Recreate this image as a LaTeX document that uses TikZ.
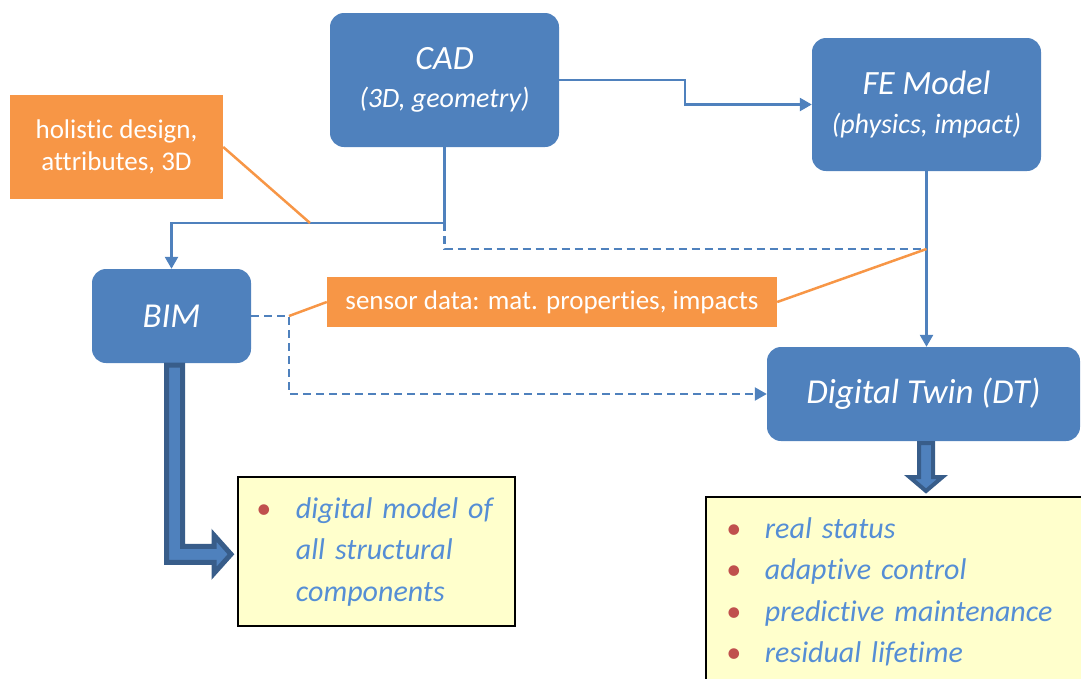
\documentclass[tikz,border=0pt]{standalone}
\usepackage{fontspec}
\setmainfont{Carlito}[Ligatures=CommonOff]
\usetikzlibrary{calc}
\usetikzlibrary{arrows.meta}

\definecolor{boxblue}{HTML}{4F81BD}
\definecolor{arrowdark}{HTML}{385D8A}
\definecolor{noteorange}{HTML}{F79646}
\definecolor{specyellow}{HTML}{FFFFCC}
\definecolor{bulletred}{HTML}{C0504D}
\definecolor{listblue}{HTML}{558ED5}

\newcommand{\specitem}{{\color{bulletred}\textbullet}}

\begin{document}
\begin{tikzpicture}[%
  x=1pt, y=-1pt,
  >={Triangle[length=12pt,width=13pt]},
  block/.style={fill=boxblue, rounded corners=14pt, text=white, align=center, inner sep=0pt},
  note/.style={fill=noteorange, text=white, align=center, inner sep=0pt,
    font=\fontsize{27}{32}\selectfont},
  spec/.style={draw=black, line width=2pt, fill=specyellow, anchor=north west, align=left,
    inner ysep=12pt, text=listblue, font=\itshape\fontsize{30}{41.5}\selectfont},
  flow/.style={boxblue, line width=2.5pt, ->},
  dashflow/.style={boxblue, line width=2.2pt, dash pattern=on 8pt off 5pt},
  calloutline/.style={noteorange, line width=2.5pt},
  fatarrow/.style={draw=arrowdark, fill=boxblue, line join=miter}
]

  \path[use as bounding box] (0,0) rectangle (1081,678);
  \clip (0,0) rectangle (1081,678);

  \node[block, minimum width=229pt, minimum height=134pt,
    font=\itshape\fontsize{28}{38}\selectfont] (cad) at (444.5,80)
    {{\fontsize{34}{38}\selectfont CAD}\\(3D, geometry)};
  \node[block, minimum width=229pt, minimum height=133pt,
    font=\itshape\fontsize{28}{39}\selectfont] (fe) at (926.5,104.5)
    {{\fontsize{34}{39}\selectfont FE Model}\\(physics, impact)};
  \node[block, minimum width=159pt, minimum height=94pt,
    font=\itshape\fontsize{35}{40}\selectfont] (bim) at (171.5,316) {BIM};
  \node[block, minimum width=313pt, minimum height=94pt,
    font=\itshape\fontsize{35}{40}\selectfont] (dt) at (923.5,394) {Digital Twin (DT)};

  \node[note, minimum width=213pt, minimum height=104pt] (holistic) at (116.5,147)
    {holistic design,\\attributes, 3D};
  \node[note, minimum width=450pt, minimum height=50pt] (sensor) at (552,302)
    {sensor data: mat. properties, impacts};

  \node[spec, inner xsep=18pt, text width=241pt] (bimspec) at (237,476) {%
    \noindent\begin{tabular}{@{}l@{\hspace{25pt}}l@{}}
      \specitem & digital model of\\
                & all structural\\
                & components
    \end{tabular}};
  \node[spec, inner xsep=20pt, text width=360pt] (dtspec) at (705,496) {%
    \noindent\begin{tabular}{@{}l@{\hspace{24pt}}l@{}}
      \specitem & real status\\
      \specitem & adaptive control\\
      \specitem & predictive maintenance\\
      \specitem & residual lifetime
    \end{tabular}};

  \coordinate (cadbend) at (685,80);
  \coordinate (cadsplit) at (444.5,223);
  \coordinate (dashdrop) at (444.5,249);
  \coordinate (dashmeet) at (fe.south |- dashdrop);
  \coordinate (bimdash) at (289,316);
  \coordinate (holisticfoot) at (310,223);

  \draw[flow] (cad.east) -- (cadbend) |- (fe.west);
  \draw[flow] (cad.south) -- (cadsplit) -| (bim.north);
  \draw[flow] (fe.south) -- (fe.south |- dt.north);
  \draw[dashflow] (cadsplit) -- (dashdrop) -- (dashmeet);
  \draw[dashflow, ->] (bim.east) -- (bimdash) |- (dt.west);

  \draw[calloutline] (holistic.east) -- (holisticfoot);
  \draw[calloutline] (sensor.east) -- (dashmeet);
  \draw[calloutline] (sensor.west) -- (bimdash);

  \coordinate (bimfoot) at ($(bim.south)+(3,0)$);
  \coordinate (bimbend) at ($(bimfoot |- bimspec.west)+(0,3)$);
  \coordinate (bimtip) at ($(bimspec.west)+(0,3)$);
  \path[fatarrow, line width=5pt]
    ($(bimfoot)+(-8,2)$) -- ($(bimbend)+(-8,8)$) -- ($(bimtip)+(-23,8)$)
    -- ($(bimtip)+(-23,19)$) -- ($(bimtip)+(-6,0)$) -- ($(bimtip)+(-23,-19)$)
    -- ($(bimtip)+(-23,-8)$) -- ($(bimbend)+(8,-8)$) -- ($(bimfoot)+(8,2)$) -- cycle;

  \coordinate (dtfoot) at ($(dt.south)+(2.5,0)$);
  \coordinate (dttip) at (dtfoot |- dtspec.north);
  \path[fatarrow, line width=4pt]
    ($(dtfoot)+(-7,2)$) -- ($(dttip)+(-7,-19)$) -- ($(dttip)+(-16.5,-19)$)
    -- ($(dttip)+(0,-5)$) -- ($(dttip)+(16.5,-19)$) -- ($(dttip)+(7,-19)$)
    -- ($(dtfoot)+(7,2)$) -- cycle;

\end{tikzpicture}
\end{document}
